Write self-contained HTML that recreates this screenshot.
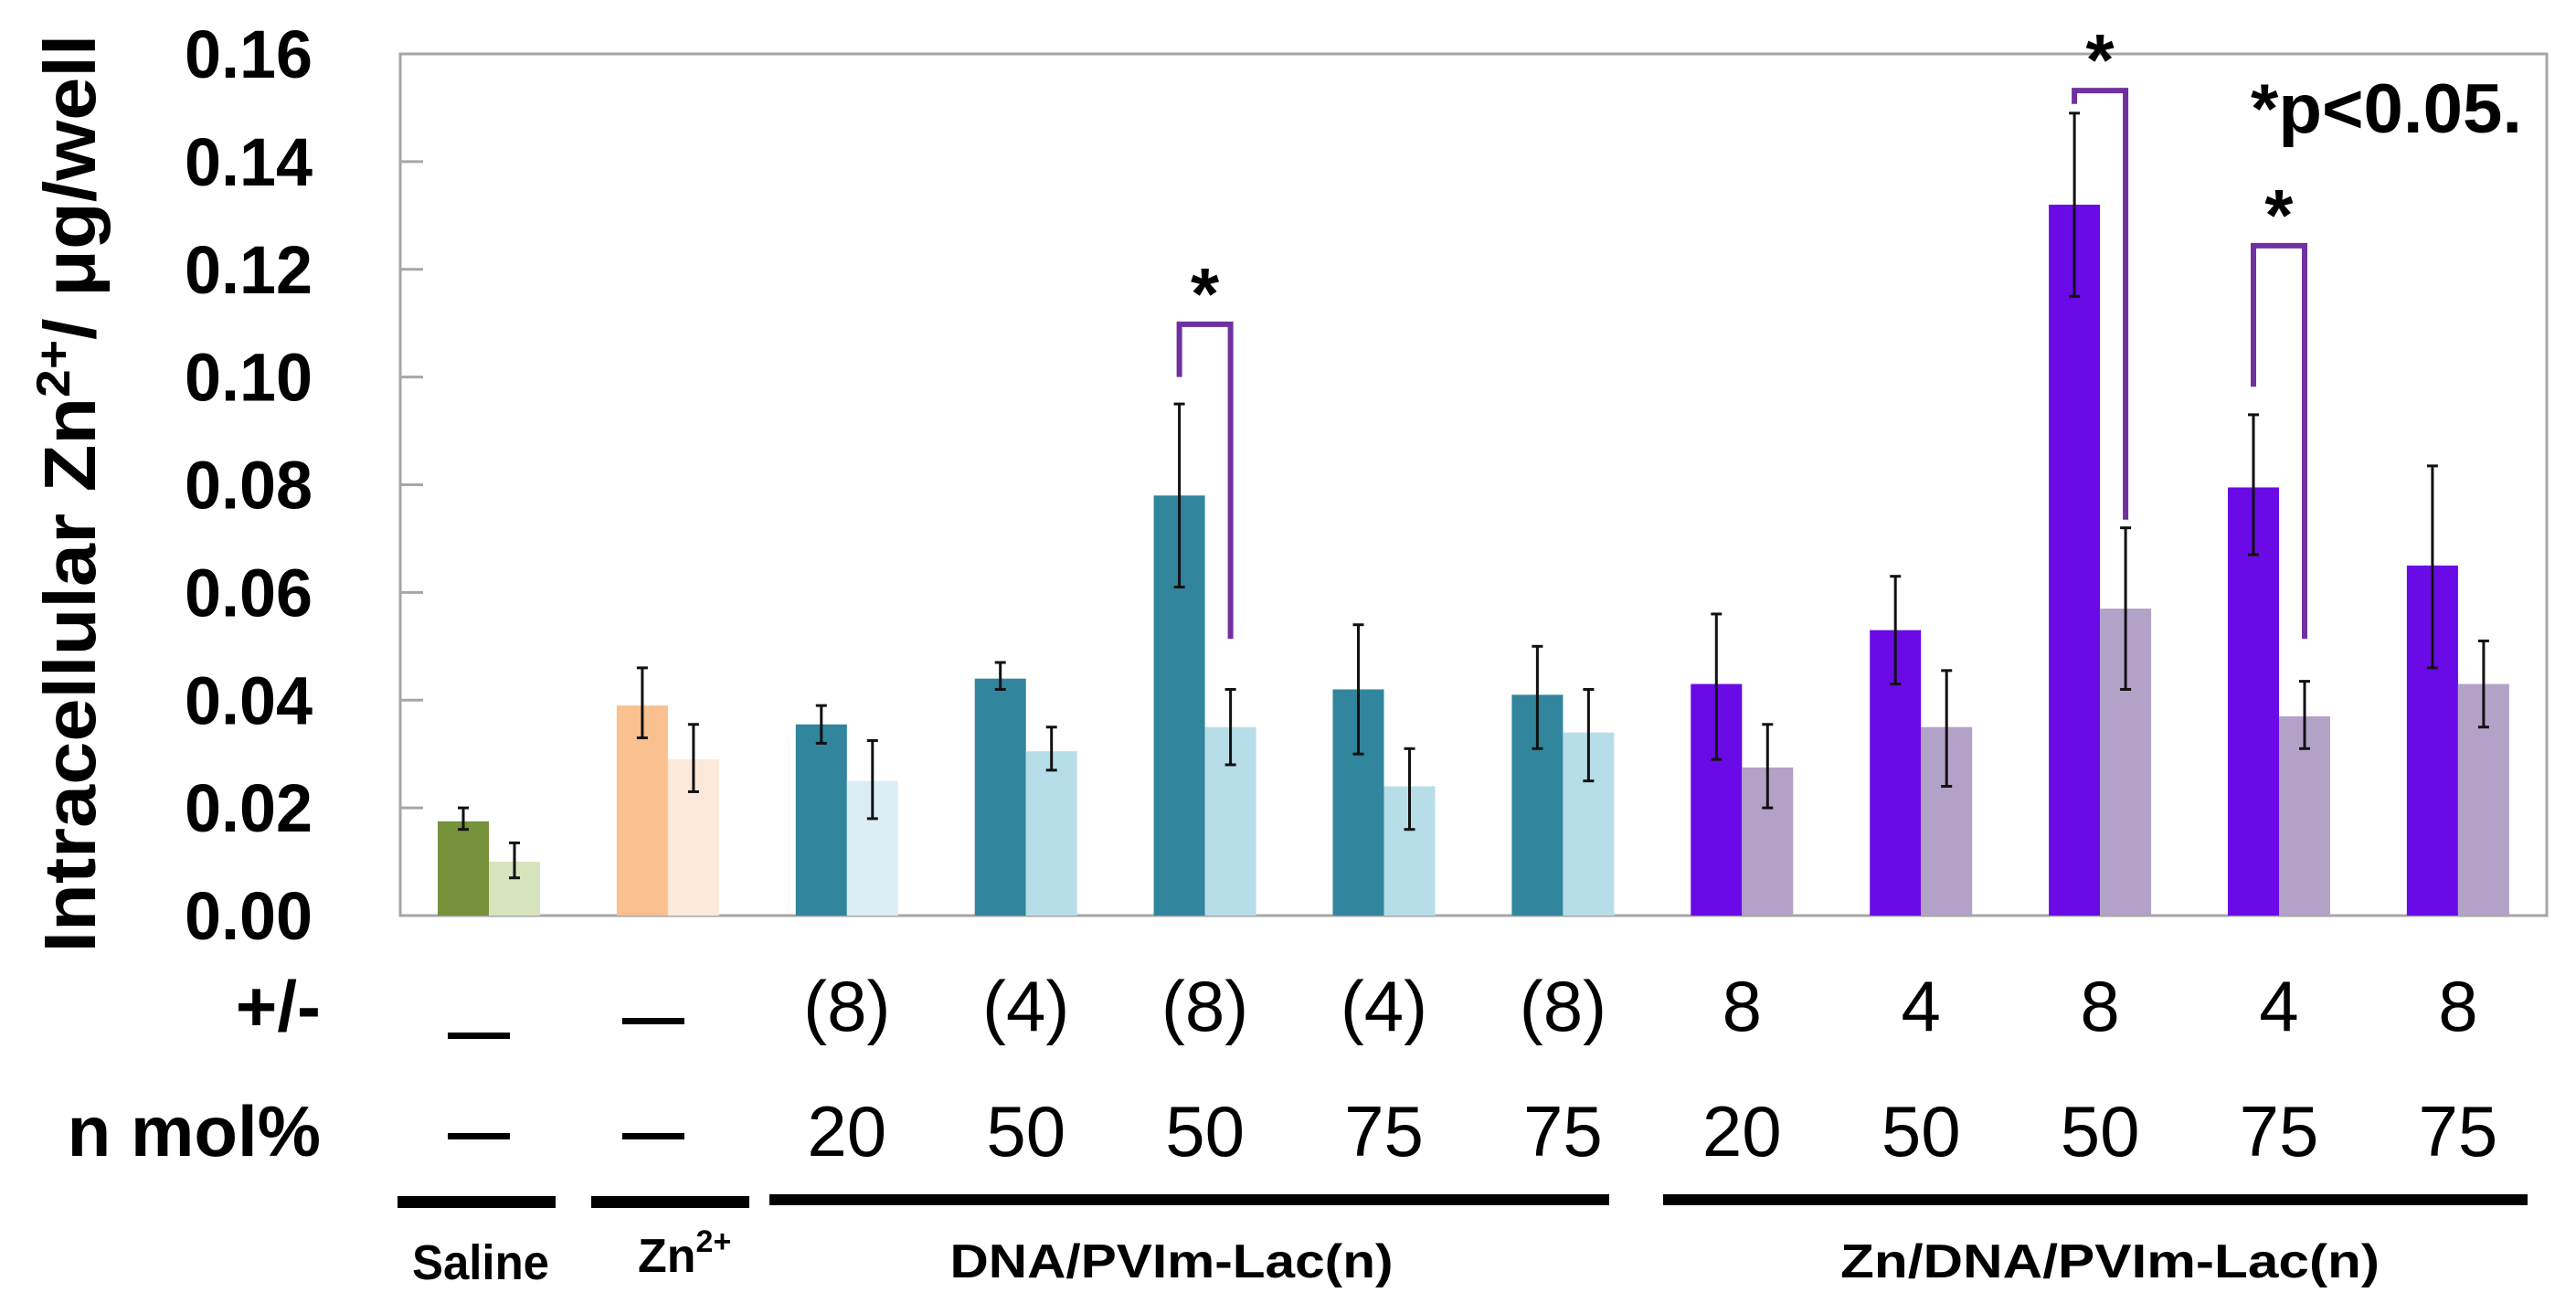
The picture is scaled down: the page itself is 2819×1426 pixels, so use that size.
<!DOCTYPE html>
<html><head><meta charset="utf-8"><style>
html,body{margin:0;padding:0;background:#fff;}
svg{display:block;font-family:"Liberation Sans",sans-serif;}
</style></head><body>
<svg id="chart" width="2819" height="1426" viewBox="0 0 2819 1426">
<g id="plot"></g>
</svg>
<script>
const categories=["Saline","Zn2+","DNA 20 (8)","DNA 50 (4)","DNA 50 (8)","DNA 75 (4)","DNA 75 (8)","ZnDNA 20 8","ZnDNA 50 4","ZnDNA 50 8","ZnDNA 75 4","ZnDNA 75 8"];
const darkValues=[0.0175,0.039,0.0355,0.044,0.078,0.042,0.041,0.043,0.053,0.132,0.0795,0.065];
const darkLow=[0.016,0.033,0.032,0.042,0.061,0.030,0.031,0.029,0.043,0.115,0.067,0.046];
const darkHigh=[0.020,0.046,0.039,0.047,0.095,0.054,0.050,0.056,0.063,0.149,0.093,0.0835];
const lightValues=[0.010,0.029,0.025,0.0305,0.035,0.024,0.034,0.0275,0.035,0.057,0.037,0.043];
const lightLow=[0.007,0.023,0.018,0.027,0.028,0.016,0.025,0.020,0.024,0.042,0.031,0.035];
const lightHigh=[0.0135,0.0355,0.0325,0.035,0.042,0.031,0.042,0.0355,0.0455,0.072,0.0435,0.051];
const chargeLabels=["","","(8)","(4)","(8)","(4)","(8)","8","4","8","4","8"];
const molLabels=["","","20","50","50","75","75","20","50","50","75","75"];
const yTicks=["0.00","0.02","0.04","0.06","0.08","0.10","0.12","0.14","0.16"];
const sigPairs=[4,9,10];
const sigTop=[0.1098,0.1532,0.1244];
const sigLeftStart=[0.1,0.1507,0.0982];
const sigRightEnd=[0.0514,0.0735,0.0514];

const darkColors=["#76923c","#fac090","#31859c","#31859c","#31859c","#31859c","#31859c","#6a0ae6","#6a0ae6","#6a0ae6","#6a0ae6","#6a0ae6"];
const lightColors=["#d7e4bd","#fde9d9","#dbeef4","#b7dee8","#b7dee8","#b7dee8","#b7dee8","#b2a2c7","#b2a2c7","#b2a2c7","#b2a2c7","#b2a2c7"];

const NS="http://www.w3.org/2000/svg";
const g=document.getElementById('plot');
const X0=438,X1=2787,Y0=1002,Y1=59,BW=56;
function yS(v){return Y0-(v/0.16)*(Y0-Y1);}
function xC(i){return 535+195.9*i;}
function mk(tag,attrs,parent){const e=document.createElementNS(NS,tag);for(const k in attrs)e.setAttribute(k,attrs[k]);(parent||g).appendChild(e);return e;}

let fr=mk('rect',{x:X0,y:Y1,width:X1-X0,height:Y0-Y1,fill:'none',stroke:'#a6a6a6','stroke-width':3});



yTicks.forEach((t,i)=>{
  const v=parseFloat(t);const y=yS(v);
  if(i>0&&i<yTicks.length-1){const tk=mk('line',{x1:X0,x2:X0+25,y1:y,y2:y,stroke:'#a6a6a6','stroke-width':3});
  
  }
  const tx=mk('text',{x:342,y:y+26,'text-anchor':'end','font-size':74,'font-weight':'bold',fill:'#000',textLength:140,lengthAdjust:'spacingAndGlyphs'});
  tx.textContent=t;
  
  
});

function errBar(x,lo,hi){
  const e=mk('g',{});
  
  
  mk('line',{x1:x,x2:x,y1:yS(lo),y2:yS(hi),stroke:'#111','stroke-width':3},e);
  mk('line',{x1:x-6,x2:x+6,y1:yS(lo),y2:yS(lo),stroke:'#111','stroke-width':3},e);
  mk('line',{x1:x-6,x2:x+6,y1:yS(hi),y2:yS(hi),stroke:'#111','stroke-width':3},e);
}

categories.forEach((c,i)=>{
  const cx=xC(i);
  const b1=mk('rect',{x:cx-BW,y:yS(darkValues[i]),width:BW,height:Y0-yS(darkValues[i]),fill:darkColors[i]});
  
  
  const b2=mk('rect',{x:cx,y:yS(lightValues[i]),width:BW,height:Y0-yS(lightValues[i]),fill:lightColors[i]});
  
  
  errBar(cx-BW/2,darkLow[i],darkHigh[i]);
  errBar(cx+BW/2,lightLow[i],lightHigh[i]);
  if(chargeLabels[i]){
    const t=mk('text',{x:cx,y:1128,'text-anchor':'middle','font-size':78,fill:'#000'});
    t.textContent=chargeLabels[i];
    
    
  } else {
    const d=mk('rect',{x:cx-(i==0?45:50),y:i==0?1130:1114,width:68,height:7,fill:'#000'});
    
    
  }
  if(molLabels[i]){
    const t=mk('text',{x:cx,y:1265,'text-anchor':'middle','font-size':78,fill:'#000'});
    t.textContent=molLabels[i];
    
    
  } else {
    const d=mk('rect',{x:cx-(i==0?45:50),y:1240,width:68,height:7,fill:'#000'});
    
    
  }
});

sigPairs.forEach((p,k)=>{
  const l=xC(p)-BW/2, r=xC(p)+BW/2, top=yS(sigTop[k]);
  const br=mk('path',{d:`M${l},${yS(sigLeftStart[k])} V${top} H${r} V${yS(sigRightEnd[k])}`,fill:'none',stroke:'#7030a0','stroke-width':6});
  
  
  const s=mk('text',{x:(l+r)/2,y:top-6,'text-anchor':'middle','font-size':80,'font-weight':'bold',fill:'#000'});
  s.textContent='*';
  
  
});
</script>
<svg style="position:absolute;left:0;top:0" width="2819" height="1426">
<text x="2463" y="145" font-size="76" font-weight="bold" textLength="297" lengthAdjust="spacingAndGlyphs" font-family="Liberation Sans, sans-serif">*p&lt;0.05.</text>
<text transform="translate(104,540) rotate(-90)" text-anchor="middle" font-size="80" font-weight="bold" textLength="1005" lengthAdjust="spacingAndGlyphs" font-family="Liberation Sans, sans-serif">Intracellular  Zn<tspan font-size="52" dy="-28">2+</tspan><tspan dy="28">/ μg/well</tspan></text>
<text x="351" y="1128" text-anchor="end" font-size="78" font-weight="bold" font-family="Liberation Sans, sans-serif">+/-</text>
<text x="351" y="1265" text-anchor="end" font-size="78" font-weight="bold" font-family="Liberation Sans, sans-serif">n mol%</text>
<rect x="435" y="1309" width="173" height="13" fill="#000"/>
<rect x="647" y="1309" width="173" height="13" fill="#000"/>
<rect x="842" y="1307" width="919" height="12" fill="#000"/>
<rect x="1820" y="1307" width="946" height="12" fill="#000"/>
<text x="526" y="1400" text-anchor="middle" font-size="54" font-weight="bold" textLength="150" lengthAdjust="spacingAndGlyphs" font-family="Liberation Sans, sans-serif">Saline</text>
<text x="698" y="1392" font-size="52" font-weight="bold" font-family="Liberation Sans, sans-serif">Zn<tspan font-size="34" dy="-22">2+</tspan></text>
<text x="1282" y="1398" text-anchor="middle" font-size="52" font-weight="bold" textLength="485" lengthAdjust="spacingAndGlyphs" font-family="Liberation Sans, sans-serif">DNA/PVIm-Lac(n)</text>
<text x="2309" y="1398" text-anchor="middle" font-size="52" font-weight="bold" textLength="590" lengthAdjust="spacingAndGlyphs" font-family="Liberation Sans, sans-serif">Zn/DNA/PVIm-Lac(n)</text>
</svg>
</body></html>
